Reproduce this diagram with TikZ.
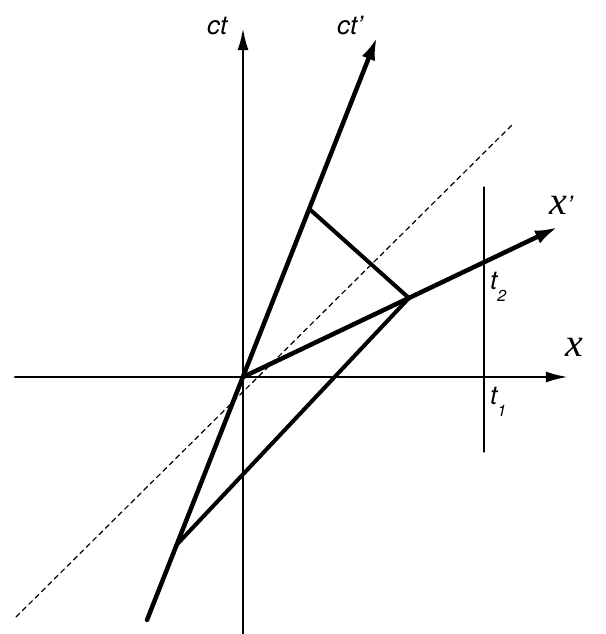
\documentclass[tikz,border=0pt]{standalone}
\usepackage{fontspec}
\usepackage{tkz-euclide}
\usetikzlibrary{arrows.meta}
\newfontfamily\sanslbl{TeX Gyre Heros}
\newfontfamily\seriflbl{Liberation Serif}
\newcommand\bigsans{\sanslbl\itshape\fontsize{26}{28}\selectfont}
\newcommand\bigserif{\seriflbl\itshape\fontsize{40}{42}\selectfont}
\newcommand\subsans{\sanslbl\itshape\fontsize{16}{16}\selectfont}
\tikzset{
  axis/.style={line width=2.4bp, -{Latex[length=22bp,width=11bp]}},
  frame/.style={line width=4.5bp, -{Latex[length=23bp,width=14bp]}},
  world/.style={line width=4bp},
  light/.style={line width=1.2bp, dash pattern=on 5bp off 4bp},
  clock/.style={line width=1.4bp},
  lbl/.style={inner sep=0pt, anchor=base west}
}
\begin{document}
\begin{tikzpicture}[scale=1.764]
    \useasboundingbox (-4.86,-5.14) rectangle (7.24,7.54);
    \tkzDefPoints{0/0/O, -4.56/0/X0, 6.5/0/X1, 0/-5.2/T0, 0/6.98/T1}
    \tkzDefPoints{-1.92/-4.86/U0, 2.68/6.8/U1, 6.3/3.0/V1}
    \tkzDefPoints{1.33/3.36/P, 3.32/1.58/Q, -1.33/-3.36/R}
    \tkzDefPoints{-4.54/-4.8/L0, 5.38/5.04/L1, 4.82/3.8/S1, 4.82/-1.5/S0}
    \tkzDrawSegment[light](L0,L1)
    \tkzDrawSegment[clock](S0,S1)
    \tkzDrawSegment[axis](X0,X1)
    \tkzDrawSegment[axis](T0,T1)
    \tkzDrawSegment[frame](U0,U1)
    \tkzDrawSegment[frame](O,V1)
    \tkzDrawSegment[world](P,Q)
    \tkzDrawSegment[world](Q,R)
    \node[lbl] (lblct) at (-0.72,6.84) {\bigsans ct};
    \node[lbl] (lblctp) at (1.88,6.84) {\bigsans ct’};
    \node[lbl] (lblxp) at (6.12,3.24) {\bigserif x\bigsans ’};
    \node[lbl] (lblx) at (6.44,0.4) {\bigserif x};
    \node[lbl] (lblttwo) at (4.94,1.74) {\bigsans t\raisebox{-12bp}{\subsans 2}};
    \node[lbl] (lbltone) at (4.94,-0.56) {\bigsans t\raisebox{-12bp}{\subsans 1}};
\end{tikzpicture}
\end{document}
